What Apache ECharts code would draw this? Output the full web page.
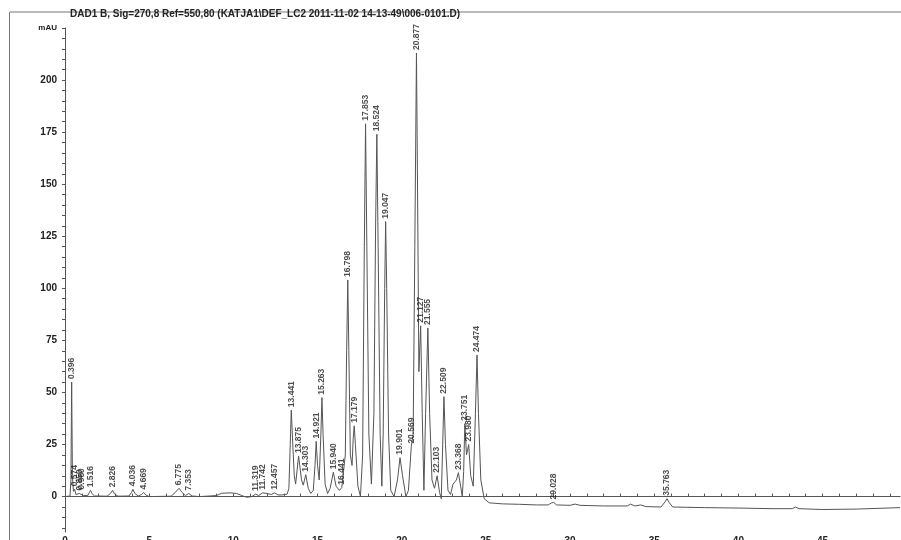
<!DOCTYPE html>
<html>
<head>
<meta charset="utf-8">
<script src="https://cdn.jsdelivr.net/npm/echarts@6/dist/echarts.min.js"></script>
<style>html,body{margin:0;padding:0;background:#fff;}#c{width:901px;height:540px;}</style>
</head>
<body>
<div id="c"></div>
<script>
// Chromatogram trace: retention time (min) and signal (mAU)
const traceTimes = [0,0.3,0.35,0.396,0.44,0.5,0.574,0.65,0.75,0.85,0.96,1.1,1.35,1.45,1.516,1.6,1.75,2.5,2.7,2.826,2.95,3.15,3.8,3.95,4.036,4.15,4.35,4.55,4.669,4.8,5.0,6.3,6.55,6.775,6.95,7.15,7.353,7.55,8,8.6,9.0,9.3,9.8,10.2,10.5,10.8,11.1,11.319,11.5,11.742,12.0,12.25,12.457,12.65,12.9,13.2,13.3,13.38,13.441,13.53,13.62,13.7,13.875,14.05,14.15,14.303,14.45,14.6,14.75,14.85,14.921,15.0,15.1,15.2,15.263,15.33,15.45,15.6,15.75,15.94,16.1,16.3,16.441,16.55,16.65,16.73,16.798,16.86,16.95,17.05,17.12,17.179,17.25,17.4,17.55,17.68,17.78,17.853,17.93,18.05,18.2,18.35,18.45,18.524,18.6,18.72,18.82,18.9,18.99,19.047,19.11,19.22,19.35,19.55,19.75,19.901,20.05,20.25,20.4,20.569,20.68,20.78,20.877,20.95,21.02,21.127,21.22,21.32,21.42,21.555,21.66,21.8,21.95,22.103,22.25,22.35,22.42,22.509,22.6,22.75,22.9,23.05,23.25,23.368,23.5,23.6,23.68,23.751,23.85,23.98,24.1,24.25,24.38,24.474,24.56,24.7,24.9,25.2,26,27,28,28.7,28.9,29.028,29.2,30.0,30.3,30.6,32,33.4,33.6,33.85,34.2,34.5,35.4,35.6,35.763,35.9,36.1,38,40,42,43.2,43.4,43.6,45,47,49.6];
const traceValues = [0,0.3,8,55,10,2.5,3.5,1,0.5,1.5,2,0.5,0.5,2,3,1.5,0.3,0.2,1.5,3,1.2,0.2,0.3,2,3.5,1.5,0.3,1,2,0.8,0,0.2,2,4,2,0.5,1.5,0.3,0,0.3,0.5,1.6,1.8,1.5,0.5,-0.3,0,1.2,0.5,1.8,1.5,1,1.8,0.8,0.8,1.2,4,25,41.5,25,10,6,19.5,8,5.5,10.5,4,1.5,3,15,26.5,15,8,30,47.5,30,6,1.5,4,11.7,5,3,4.3,3.5,20,70,104,70,20,15,28,34,25,5,0,20,120,179,120,30,6,40,130,174,120,30,5,30,100,132,100,30,3,0,8,18.7,10,0,3,24,30,120,213,140,60,82,40,3,40,81,40,8,4,10,2,-1,20,48,25,3,1,6,8,11.5,5,0,12,35,20,25,10,5,40,68,40,8,-1,-3,-3.5,-3.7,-4,-4,-3,-2.8,-4,-4.2,-3.6,-4.2,-4.5,-4.5,-3.6,-4.5,-4,-4.8,-5,-3,-1,-3,-5,-5.3,-5.5,-5.8,-5.8,-5,-5.8,-6.2,-6,-5.3];

// Integrated peaks: label text, retention time, apex height
const peakLabels = ['0.396','0.574','0.850','0.960','1.516','2.826','4.036','4.669','6.775','7.353','11.319','11.742','12.457','13.441','13.875','14.303','14.921','15.263','15.940','16.441','16.798','17.179','17.853','18.524','19.047','19.901','20.569','20.877','21.127','21.555','22.103','22.509','23.368','23.751','23.980','24.474','29.028','35.763'];
const peakTimes = [0.396,0.574,0.85,0.96,1.516,2.826,4.036,4.669,6.775,7.353,11.319,11.742,12.457,13.441,13.875,14.303,14.921,15.263,15.94,16.441,16.798,17.179,17.853,18.524,19.047,19.901,20.569,20.877,21.127,21.555,22.103,22.509,23.368,23.751,23.98,24.474,29.028,35.763];
const peakHeights = [55,3.5,1.5,2,3,3,3.5,2,4,1.5,1.2,1.8,1.8,41.5,19.5,10.5,26.5,47.5,11.7,4.3,104,34,179,174,132,18.7,24,213,82,81,10,48,11.5,35,25,68,-2.8,-1];

const yLabelTicks = [0,25,50,75,100,125,150,175,200,225];
const yMinorTicks = [-15,-10,-5,0,5,10,15,20,25,30,35,40,45,50,55,60,65,70,75,80,85,90,95,100,105,110,115,120,125,130,135,140,145,150,155,160,165,170,175,180,185,190,195,200,205,210,215,220,225];
const xLabelTicks = [0,5,10,15,20,25,30,35,40,45];
const xMinorTicks = [0,1,2,3,4,5,6,7,8,9,10,11,12,13,14,15,16,17,18,19,20,21,22,23,24,25,26,27,28,29,30,31,32,33,34,35,36,37,38,39,40,41,42,43,44,45,46,47,48,49];
const titleText = 'DAD1 B, Sig=270,8 Ref=550,80 (KATJA1\\DEF_LC2 2011-11-02 14-13-49\\006-0101.D)';

const trace = traceTimes.map((t, i) => [t, traceValues[i]]);
const peaks = peakTimes.map((t, i) => ({value: [t, peakHeights[i]], name: peakLabels[i]}));

const chart = echarts.init(document.getElementById('c'), null, {renderer: 'canvas'});
const font = '"Liberation Sans", Arial, sans-serif';
chart.setOption({
  animation: false,
  backgroundColor: '#fff',
  title: {
    text: titleText, left: 70, top: 9, padding: 0,
    textStyle: {fontSize: 10, fontWeight: 'bold', color: '#222', fontFamily: font}
  },
  graphic: [
    {type: 'line', shape: {x1: 10, y1: 12, x2: 901, y2: 12}, style: {stroke: '#777', lineWidth: 1}, z: -1},
    {type: 'line', shape: {x1: 9.5, y1: 12, x2: 9.5, y2: 540}, style: {stroke: '#777', lineWidth: 1}, z: -1}
  ],
  grid: {left: 65, right: 1, top: 28, bottom: 8, containLabel: false, outerBoundsMode: 'none'},
  xAxis: {
    type: 'value', min: 0, max: 49.6,
    axisLine: {lineStyle: {color: '#555', width: 1}},
    axisTick: {inside: true, length: 3, customValues: xMinorTicks, lineStyle: {color: '#555'}},
    axisLabel: {customValues: xLabelTicks, margin: 4, fontSize: 10, fontWeight: 'bold', color: '#222', fontFamily: font},
    splitLine: {show: false}
  },
  yAxis: {
    type: 'value', min: -17, max: 225,
    axisLine: {show: true, lineStyle: {color: '#555', width: 1}},
    axisTick: {show: true, length: 3, customValues: yMinorTicks, lineStyle: {color: '#555'}},
    axisLabel: {
      customValues: yLabelTicks, margin: 8, fontSize: 10, fontWeight: 'bold', color: '#222', fontFamily: font,
      formatter: v => v === 225 ? '{u|mAU}' : String(v),
      rich: {u: {fontSize: 8, fontWeight: 'bold', color: '#222', fontFamily: font}}
    },
    splitLine: {show: false}
  },
  series: [
    {
      type: 'line', data: trace, symbol: 'none', smooth: false,
      lineStyle: {color: '#555', width: 1}, z: 2
    },
    {
      type: 'scatter', data: peaks, symbolSize: 0, z: 3,
      label: {
        show: true, formatter: p => p.name, position: 'top', distance: 3,
        rotate: 90, align: 'left', verticalAlign: 'middle',
        fontSize: 8.5, fontWeight: 'bold', color: '#222', fontFamily: font
      }
    }
  ]
});
</script>
</body>
</html>
